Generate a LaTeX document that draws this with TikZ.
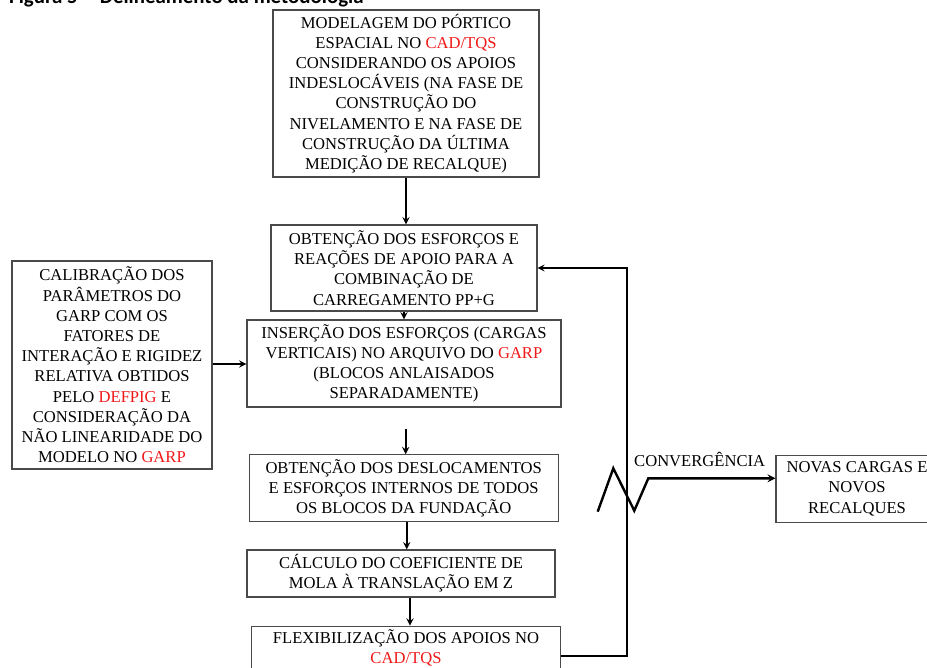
\documentclass[tikz,border=0pt]{standalone}
\usepackage{fontspec}
\setmainfont{Liberation Serif}
\newfontfamily\boxfont{Liberation Serif}
\newfontfamily\titlefont{Carlito}
\usepackage{tikz}
\definecolor{boxgray}{HTML}{4A4A4A}
\definecolor{progred}{HTML}{F01818}
\newcommand{\prog}[1]{\textcolor{progred}{#1}}

\begin{document}
\begin{tikzpicture}[x=1pt, y=-1pt,
	every node/.style={font=\boxfont\fontsize{16.6}{20.2}\selectfont, align=center, inner sep=0pt},
	etapa/.style={draw=boxgray, line width=1.2pt},
	seta/.style={black, line width=2.2pt, -stealth}]
		\useasboundingbox (0,0) rectangle (927,668);
		\clip (0,0) rectangle (927,668);
		\node[anchor=base west, font=\titlefont\bfseries\fontsize{20.9}{24}\selectfont] (titulo) at (9,3.6) {Figura 5 -- Delineamento da metodologia};
		\node[etapa, minimum width=266, minimum height=167] (modelagem) at (406,93.5) {MODELAGEM DO PÓRTICO\\ESPACIAL NO \prog{CAD/TQS}\\CONSIDERANDO OS APOIOS\\INDESLOCÁVEIS (NA FASE DE\\CONSTRUÇÃO DO\\NIVELAMENTO E NA FASE DE\\CONSTRUÇÃO DA ÚLTIMA\\MEDIÇÃO DE RECALQUE)};
		\node[etapa, minimum width=266, minimum height=86] (esforcos) at (404,268) {OBTENÇÃO DOS ESFORÇOS E\\REAÇÕES DE APOIO PARA A\\COMBINAÇÃO DE\\CARREGAMENTO PP+G};
		\node[etapa, minimum width=314, minimum height=87] (insercao) at (404,363.5) {INSERÇÃO DOS ESFORÇOS (CARGAS\\VERTICAIS) NO ARQUIVO DO \prog{GARP}\\(BLOCOS ANLAISADOS\\SEPARADAMENTE)};
		\node[etapa, minimum width=200, minimum height=208] (calibracao) at (112,365) {CALIBRAÇÃO DOS\\PARÂMETROS DO\\GARP COM OS\\FATORES DE\\INTERAÇÃO E RIGIDEZ\\RELATIVA OBTIDOS\\PELO \prog{DEFPIG} E\\CONSIDERAÇÃO DA\\NÃO LINEARIDADE DO\\MODELO NO \prog{GARP}};
		\node[etapa, minimum width=309, minimum height=67] (deslocamentos) at (403.7,488.3) {OBTENÇÃO DOS DESLOCAMENTOS\\E ESFORÇOS INTERNOS DE TODOS\\OS BLOCOS DA FUNDAÇÃO};
		\node[etapa, minimum width=308, minimum height=47] (mola) at (401,573.5) {CÁLCULO DO COEFICIENTE DE\\MOLA À TRANSLAÇÃO EM Z};
		\node[etapa, minimum width=309, minimum height=52, anchor=north] (flexibilizacao) at (406,625.7) {\rule{0pt}{1.05em}FLEXIBILIZAÇÃO DOS APOIOS NO\\\prog{CAD/TQS}\\[10pt]};
		\node[etapa, minimum width=162, minimum height=67] (novas) at (857,488.7) {NOVAS CARGAS E\\NOVOS\\RECALQUES};
		\node[anchor=south west] (convergencia) at (634,467) {CONVERGÊNCIA};
		% pontos livres
		\coordinate (retorno) at (626.7,268);
		\coordinate (saida) at (405.7,429);
		\coordinate (z1) at (597.7,511.7);
		\coordinate (z2) at (613.3,468.3);
		\coordinate (z3) at (634.3,510.7);
		\coordinate (z4) at (648.3,478.3);
		% setas
		\draw[seta] (modelagem.south) -- (esforcos.north -| modelagem.south);
		\draw[seta] (esforcos.south) -- (insercao.north);
		\draw[seta] ([yshift=1pt]calibracao.east) -- ([yshift=1pt]calibracao.east -| insercao.west);
		\draw[seta] (saida) -- (saida |- deslocamentos.north);
		\draw[seta] (deslocamentos.south -| 406.7,0) -- (mola.north -| 406.7,0);
		\draw[seta] (mola.south -| 410,0) -- (flexibilizacao.north -| 410,0);
		\draw[seta, line width=2pt, line join=miter] ([yshift=4.4pt]flexibilizacao.east) -| (retorno) -- (esforcos.east);
		\draw[seta, line width=2.4pt, line join=miter] (z1) -- (z2) -- (z3) -- (z4) -- (z4 -| novas.west);
	\end{tikzpicture}
\end{document}
